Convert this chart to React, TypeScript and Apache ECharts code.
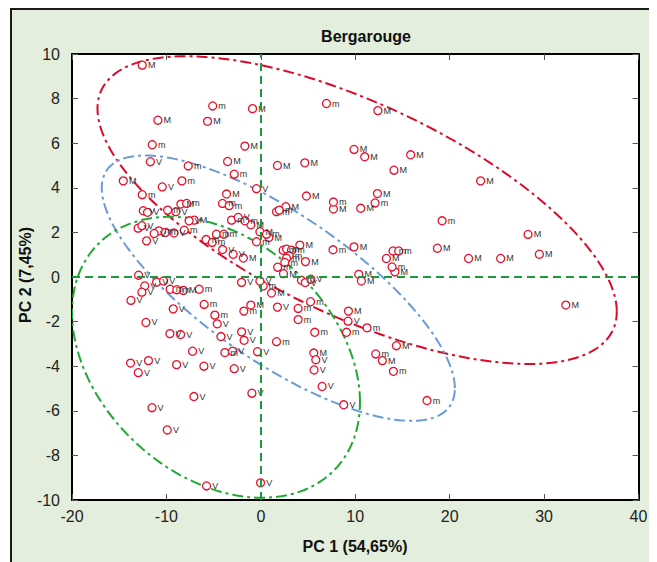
import React, { useEffect, useRef } from "react";
import * as echarts from "echarts";

// ---- data ----
const xMin = -20, xMax = 40, xStep = 10;
const yMin = -10, yMax = 10, yStep = 2;
const titleText = "Bergarouge";
const xName = "PC 1 (54,65%)";
const yName = "PC 2 (7,45%)";

const pointsM: [number, number][] = [
  [-12.56, 9.5], [-0.88, 7.55], [-10.9, 7.03], [-5.64, 6.98], [-1.69, 5.87],
  [-3.52, 5.18], [-14.57, 4.31], [-3.63, 3.72], [12.4, 7.46], [9.87, 5.72],
  [11.0, 5.39], [15.87, 5.48], [1.76, 5.0], [4.66, 5.12], [14.1, 4.79],
  [4.83, 3.63], [12.35, 3.74], [23.28, 4.31], [28.3, 1.91], [18.7, 1.29],
  [22.0, 0.83], [25.4, 0.83], [29.5, 1.02], [32.3, -1.26], [7.69, 3.05],
  [10.58, 3.08], [2.65, 3.15], [-1.06, 2.34], [-0.1, 2.03], [0.85, 1.77],
  [4.13, 1.43], [4.73, 0.69], [2.4, 0.15], [9.87, 1.35], [13.3, 0.83],
  [14.2, 0.23], [10.37, 0.12], [10.65, -0.18], [-1.85, 0.85], [1.13, -0.72],
  [-1.06, -1.26], [-7.06, 2.55], [-8.47, 3.27], [-8.2, -0.6], [9.28, -1.53],
  [14.36, -3.08], [5.61, -3.41], [12.87, -3.75],
];

const pointsSmallM: [number, number][] = [
  [-5.1, 7.67], [-11.5, 5.93], [-7.69, 4.98], [-2.82, 4.61], [-8.36, 4.31],
  [-12.56, 3.69], [6.95, 7.78], [19.2, 2.52], [7.69, 3.36], [12.1, 3.32],
  [1.66, 2.93], [1.95, 3.0], [-0.46, 1.58], [0.6, 1.92], [2.36, 1.2],
  [2.72, 1.25], [3.25, 1.2], [3.0, 0.95], [2.72, 0.84], [2.54, 0.65],
  [1.78, 0.44], [7.65, 1.22], [14.0, 1.17], [14.6, 1.17], [13.9, 0.45],
  [4.3, -0.15], [0.25, -0.4], [-7.86, 3.3], [-9.87, 3.0], [-4.06, 3.3],
  [-3.35, 3.2], [-3.1, 2.55], [-1.69, 2.52], [-10.8, 2.07], [-10.1, 2.0],
  [-8.11, 2.1], [-5.8, 1.68], [-5.15, 1.55], [-4.7, 1.92], [-3.92, 1.92],
  [-9.6, -0.55], [-8.9, -0.57], [-6.53, -0.55], [-6.0, -1.23], [-4.87, -1.71],
  [-1.8, -1.53], [-3.81, -3.39], [3.95, -1.41], [5.26, -1.11], [3.95, -1.91],
  [11.25, -2.28], [9.07, -2.48], [5.71, -2.48], [1.66, -2.9], [12.17, -3.45],
  [14.04, -4.23], [17.6, -5.54],
];

const pointsV: [number, number][] = [
  [-11.7, 5.17], [-10.44, 4.04], [-0.46, 3.96], [4.7, -0.25], [5.3, -0.1],
  [-2.04, -0.24], [-0.1, -0.18], [-12.45, 2.97], [-12.0, 2.9], [-9.0, 2.93],
  [-7.6, 2.52], [-13.0, 2.19], [-12.6, 2.3], [-11.3, 1.95], [-9.2, 1.97],
  [-12.1, 1.62], [-4.05, 1.23], [-2.93, 1.02], [-2.4, 2.67], [-12.95, 0.08],
  [-11.04, -0.23], [-10.3, -0.18], [-12.3, -0.4], [-12.6, -0.68], [-13.76, -1.05],
  [-9.28, -1.43], [-4.62, -2.1], [-12.17, -2.04], [-9.63, -2.54], [-8.5, -2.58],
  [-4.23, -2.67], [-2.04, -2.46], [-1.77, -2.84], [-7.23, -3.33], [-3.0, -3.33],
  [-0.35, -3.35], [-13.8, -3.86], [-11.9, -3.75], [-12.98, -4.29], [-8.92, -3.93],
  [-6.03, -4.0], [-2.82, -4.11], [-7.09, -5.36], [-0.95, -5.21], [-11.53, -5.86],
  [-9.91, -6.86], [-5.75, -9.37], [-0.03, -9.23], [1.76, -1.35], [9.24, -1.98],
  [5.82, -3.71], [5.64, -4.17], [6.49, -4.91], [8.78, -5.73],
];

// ellipses: [centerX, centerY, halfExtentX, halfExtentY, correlation]
const ellipseM = [10.2, 3.0, 27.5, 6.9, -0.66];
const ellipseSmallM = [1.85, -0.5, 18.7, 5.95, -0.755];
const ellipseV = [-4.75, -3.6, 15.25, 6.3, -0.32];

const FONT = "'Liberation Sans', Arial, sans-serif";
const POINT_COLOR = "#e3122c";

function ellipseSeries(params: number[], color: string) {
  return {
    type: "custom",
    coordinateSystem: "cartesian2d",
    clip: true,
    silent: true,
    z: 3,
    data: [params],
    renderItem: (_p: any, api: any) => {
      const cx = api.value(0), cy = api.value(1), ex = api.value(2), ey = api.value(3), r = api.value(4);
      const s = Math.sqrt(1 - r * r);
      const pts: number[][] = [];
      const n = 200;
      for (let i = 0; i <= n; i++) {
        const t = (2 * Math.PI * i) / n;
        const x = cx + ex * Math.cos(t);
        const y = cy + ey * (r * Math.cos(t) + s * Math.sin(t));
        pts.push(api.coord([x, y]));
      }
      return {
        type: "polyline",
        shape: { points: pts },
        style: { fill: "none", stroke: color, lineWidth: 2, lineDash: [11, 4, 3, 4] },
      };
    },
  };
}

function scatterSeries(name: string, data: [number, number][], label: string) {
  return {
    name,
    type: "scatter",
    data,
    symbol: "circle",
    symbolSize: 8,
    z: 4,
    itemStyle: { color: "#ffffff", borderColor: POINT_COLOR, borderWidth: 1.3, opacity: 1 },
    label: {
      show: true,
      position: "right",
      distance: 1,
      formatter: label,
      fontSize: 9,
      fontFamily: FONT,
      color: "#333333",
    },
  };
}

export default function App() {
  const ref = useRef<HTMLDivElement>(null);
  useEffect(() => {
    document.documentElement.style.overflow = "hidden";
    document.body.style.overflow = "hidden";
    const chart = echarts.init(ref.current!, undefined, { renderer: "svg" });
    const tick = { show: true, inside: true, length: 6, lineStyle: { color: "#555", width: 1 } };
    const line = { show: true, onZero: false, lineStyle: { color: "#000", width: 2 } };
    chart.setOption({
      animation: false,
      backgroundColor: "transparent",
      grid: {
        left: 60, top: 44, right: 18.5, bottom: 62,
        show: true, backgroundColor: "#ffffff", borderWidth: 0,
      },
      graphic: [
        {
          type: "text", x: 354, y: 26,
          style: { text: titleText, font: `bold 16px ${FONT}`, fill: "#111", textAlign: "center", textVerticalAlign: "middle" },
        },
        {
          type: "text", x: 343, y: 536,
          style: { text: xName, font: `bold 16px ${FONT}`, fill: "#111", textAlign: "center", textVerticalAlign: "middle" },
        },
        {
          type: "text", x: 13, y: 265, rotation: Math.PI / 2,
          style: { text: yName, font: `bold 16px ${FONT}`, fill: "#111", textAlign: "center", textVerticalAlign: "middle" },
        },
      ],
      xAxis: [
        {
          type: "value", min: xMin, max: xMax, interval: xStep, position: "bottom",
          axisLine: line, axisTick: tick, splitLine: { show: false },
          axisLabel: { fontSize: 16, fontFamily: FONT, color: "#222", margin: 8 },
        },
        {
          type: "value", min: xMin, max: xMax, interval: xStep, position: "top",
          axisLine: line, axisTick: tick, splitLine: { show: false }, axisLabel: { show: false },
        },
      ],
      yAxis: [
        {
          type: "value", min: yMin, max: yMax, interval: yStep, position: "left",
          axisLine: line, axisTick: tick, splitLine: { show: false },
          axisLabel: { fontSize: 16, fontFamily: FONT, color: "#222", margin: 12 },
        },
        {
          type: "value", min: yMin, max: yMax, interval: yStep, position: "right",
          axisLine: line, axisTick: tick, splitLine: { show: false }, axisLabel: { show: false },
        },
      ],
      series: [
        {
          type: "scatter",
          data: [],
          z: 2,
          markLine: {
            silent: true,
            symbol: "none",
            label: { show: false },
            lineStyle: { color: "#1a9a3c", width: 2, type: [8, 5] },
            data: [{ xAxis: 0 }, { yAxis: 0 }],
          },
        },
        ellipseSeries(ellipseM, "#dc0a28"),
        ellipseSeries(ellipseSmallM, "#6a9bd4"),
        ellipseSeries(ellipseV, "#1ea834"),
        scatterSeries("M", pointsM, "M"),
        scatterSeries("m", pointsSmallM, "m"),
        scatterSeries("V", pointsV, "V"),
      ],
    });
    return () => chart.dispose();
  }, []);
  return (
    <div
      style={{
        marginLeft: 2,
        width: 645,
        height: 552,
        borderLeft: "2px solid #1a1a1a",
        borderTop: "2px solid #1a1a1a",
        background: "#e4eedc",
      }}
    >
      <div ref={ref} style={{ width: 645, height: 552 }} />
    </div>
  );
}
